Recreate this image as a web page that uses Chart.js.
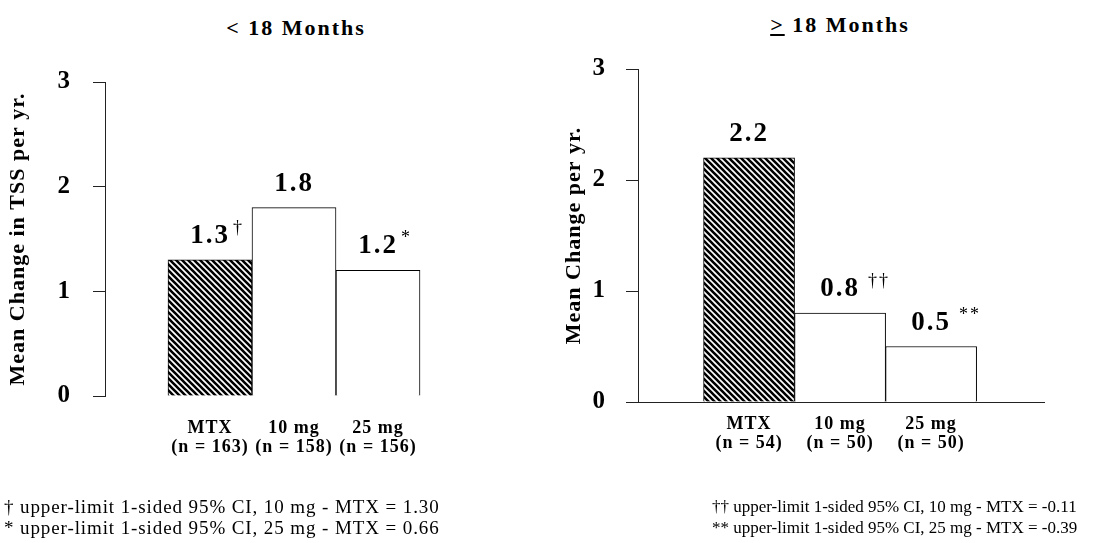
<!DOCTYPE html>
<html>
<head>
<meta charset="utf-8">
<script src="https://cdn.jsdelivr.net/npm/chart.js@4.4.1/dist/chart.umd.min.js"></script>
<style>
  body { margin: 0; background: #fff; width: 1118px; height: 543px; overflow: hidden; position: relative; font-family: 'Liberation Serif', serif; color: #000; }
  canvas { position: absolute; top: 0; }
  #left { left: 0; }
  #right { left: 559px; }
  .title { position: absolute; font-weight: bold; font-size: 22px; letter-spacing: 2px; transform: translateX(-50%); white-space: nowrap; }
  .note { position: absolute; line-height: 21px; white-space: nowrap; }
</style>
</head>
<body>
<div class="title" style="left:296px; top:15px;">&lt; 18 Months</div>
<div class="title" style="left:840px; top:12px;"><u>&gt;</u> 18 Months</div>
<canvas id="left" width="559" height="543"></canvas>
<canvas id="right" width="559" height="543"></canvas>
<div class="note" style="left:4px; top:496px; font-size:19px; letter-spacing:0.9px;">&dagger; upper-limit 1-sided 95% CI, 10 mg - MTX = 1.30<br>* upper-limit 1-sided 95% CI, 25 mg - MTX = 0.66</div>
<div class="note" style="left:712px; top:496px; font-size:17px;">&dagger;&dagger; upper-limit 1-sided 95% CI, 10 mg - MTX = -0.11<br>** upper-limit 1-sided 95% CI, 25 mg - MTX = -0.39</div>
<script>
const treatments = ['MTX', '10 mg', '25 mg'];
const yTicks = [0, 1, 2, 3];

const under18N = ['(n = 163)', '(n = 158)', '(n = 156)'];
const under18Values = [1.3, 1.8, 1.2];
const under18Marks = ['\u2020', '', '*'];

const over18N = ['(n = 54)', '(n = 50)', '(n = 50)'];
const over18Values = [2.2, 0.8, 0.5];
const over18Marks = ['', '\u2020\u2020', '**'];

function hatch() {
    const c = document.createElement('canvas');
    c.width = 6; c.height = 6;
    const g = c.getContext('2d');
    g.fillStyle = '#fff';
    g.fillRect(0, 0, 6, 6);
    g.strokeStyle = '#000';
    g.lineWidth = 2.6;
    g.beginPath();
    g.moveTo(-3, -3); g.lineTo(9, 9);
    g.moveTo(-3, 3); g.lineTo(3, 9);
    g.moveTo(3, -3); g.lineTo(9, 3);
    g.stroke();
    return g.createPattern(c, 'repeat');
}

// the scanned type is wide: spread every canvas glyph a little
const spacing = {
    id: 'spacing',
    beforeInit(chart) { chart.ctx.letterSpacing = '1px'; },
    beforeDraw(chart) { chart.ctx.letterSpacing = '1px'; }
};

const valueLabels = {
    id: 'valueLabels',
    afterDatasetsDraw(chart, args, opts) {
        const ctx = chart.ctx;
        const meta = chart.getDatasetMeta(0);
        ctx.save();
        ctx.letterSpacing = '2px';
        ctx.fillStyle = '#000';
        ctx.textBaseline = 'alphabetic';
        meta.data.forEach((bar, i) => {
            const txt = opts.values[i].toFixed(1);
            ctx.font = 'bold ' + opts.size + 'px "Liberation Serif"';
            ctx.textAlign = 'center';
            const y = bar.y - 17;
            ctx.fillText(txt, bar.x, y);
            const w = ctx.measureText(txt).width;
            if (opts.marks[i]) {
                ctx.font = '18px "Liberation Serif"';
                ctx.textAlign = 'left';
                ctx.fillText(opts.marks[i], bar.x + w / 2 + opts.markGap, y - 10);
            }
        });
        ctx.restore();
    }
};

function makeChart(id, values, ns, marks, cfg) {
    const font = { family: 'Liberation Serif', weight: 'bold' };
    return new Chart(document.getElementById(id), {
        type: 'bar',
        data: {
            datasets: [{
                data: values.map((v, i) => ({ x: i, y: v })),
                backgroundColor: [hatch(), '#fff', '#fff'],
                borderColor: '#000',
                borderWidth: 1,
                barPercentage: 1,
                categoryPercentage: 1
            }]
        },
        options: {
            responsive: false,
            animation: false,
            layout: { padding: cfg.padding },
            plugins: {
                legend: { display: false },
                tooltip: { enabled: false },
                valueLabels: { values: values, marks: marks, size: 27, markGap: cfg.markGap }
            },
            scales: {
                x: {
                    type: 'linear',
                    offset: false,
                    min: cfg.xMin,
                    max: cfg.xMax,
                    afterBuildTicks: s => { s.ticks = treatments.map((t, i) => ({ value: i })); },
                    afterFit: s => { s.height = 70; },
                    grid: { display: false, drawTicks: false },
                    border: { display: cfg.baseline, color: '#222' },
                    ticks: {
                        padding: cfg.xPad,
                        maxRotation: 0,
                        autoSkip: false,
                        color: '#000',
                        font: { ...font, size: 18, lineHeight: 1.1 },
                        callback: v => [treatments[v], ns[v]]
                    }
                },
                y: {
                    min: 0,
                    max: 3,
                    afterBuildTicks: s => { s.ticks = yTicks.map(v => ({ value: v })); },
                    afterFit: s => { s.width = cfg.yWidth; },
                    grid: { drawOnChartArea: false, drawTicks: true, tickLength: 12, color: '#222' },
                    border: { display: true, color: '#222' },
                    ticks: { padding: cfg.tickPad, color: '#000', font: { ...font, size: 25 } },
                    title: {
                        display: true,
                        text: cfg.yTitle,
                        color: '#000',
                        padding: { top: 2, bottom: 2 },
                        font: { ...font, size: 22 }
                    }
                }
            }
        },
        plugins: [spacing, valueLabels]
    });
}

makeChart('left', under18Values, under18N, under18Marks, {
    padding: { left: 3, right: 97, top: 82, bottom: 77 },
    yWidth: 102, tickPad: 22, xMin: -1.25, xMax: 3, baseline: false, markGap: 3, xPad: 22,
    yTitle: 'Mean Change in TSS per yr.'
});

makeChart('right', over18Values, over18N, over18Marks, {
    padding: { left: 0, right: 74, top: 69, bottom: 71 },
    yWidth: 79, tickPad: 20, xMin: -1.22, xMax: 3.24, baseline: true, markGap: 8, xPad: 12,
    yTitle: 'Mean Change per yr.'
});
</script>
</body>
</html>
